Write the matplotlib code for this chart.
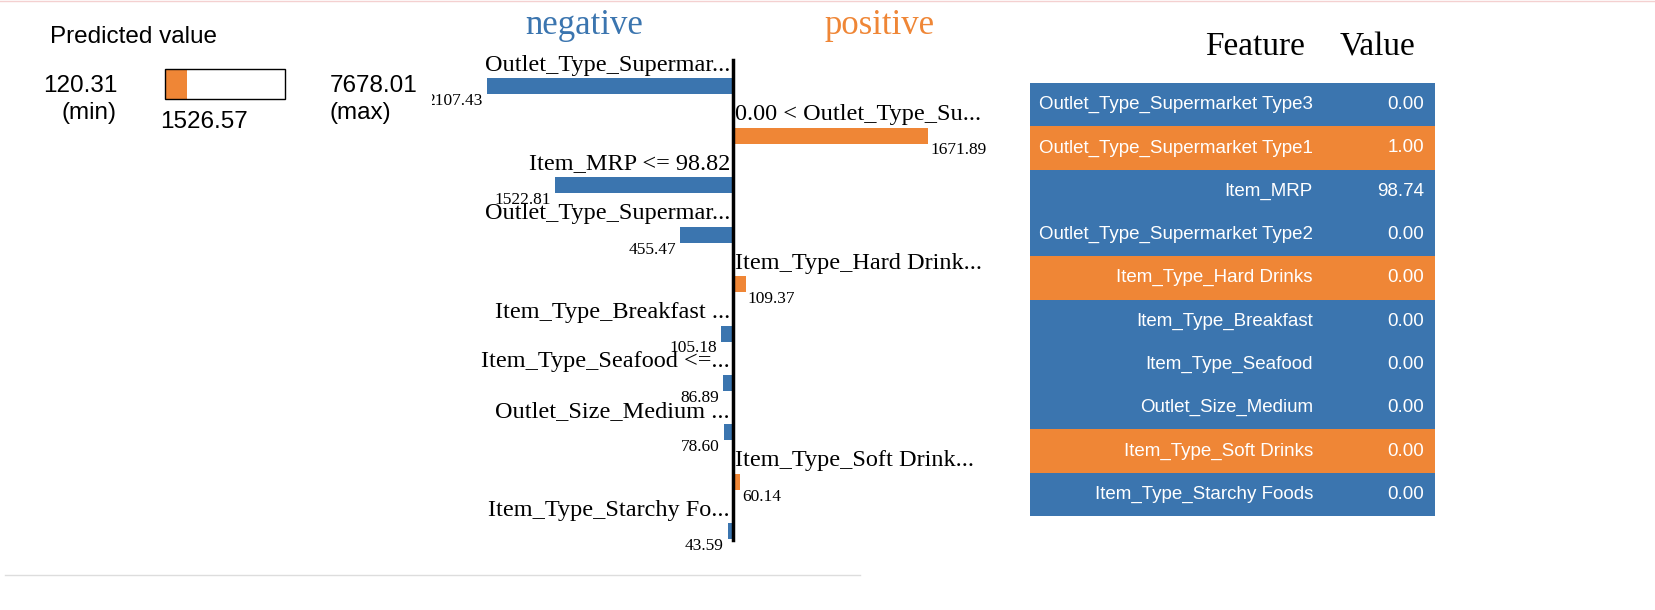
import matplotlib.pyplot as plt
from matplotlib.patches import Rectangle

BLUE = "#3b75af"
ORANGE = "#ef8636"

labels = ["Outlet_Type_Supermar...", "0.00 < Outlet_Type_Su...", "Item_MRP <= 98.82",
          "Outlet_Type_Supermar...", "Item_Type_Hard Drink...", "Item_Type_Breakfast ...",
          "Item_Type_Seafood <=...", "Outlet_Size_Medium ...", "Item_Type_Soft Drink...",
          "Item_Type_Starchy Fo..."]
weights = [-2107.43, 1671.89, -1522.81, -455.47, 109.37, -105.18, -86.89, -78.60, 60.14, -43.59]

features = ["Outlet_Type_Supermarket Type3", "Outlet_Type_Supermarket Type1", "Item_MRP",
            "Outlet_Type_Supermarket Type2", "Item_Type_Hard Drinks", "Item_Type_Breakfast",
            "Item_Type_Seafood", "Outlet_Size_Medium", "Item_Type_Soft Drinks",
            "Item_Type_Starchy Foods"]
values = [0.00, 1.00, 98.74, 0.00, 0.00, 0.00, 0.00, 0.00, 0.00, 0.00]

pred_min, pred_val, pred_max = 120.31, 1526.57, 7678.01

W, H = 1656, 610
fig = plt.figure(figsize=(W / 100, H / 100), dpi=100)

# pixel overlay axes
pax = fig.add_axes([0, 0, 1, 1])
pax.set_xlim(0, W)
pax.set_ylim(H, 0)
pax.axis("off")

SANS = "Liberation Sans"
SERIF = "Liberation Serif"

pax.plot([0, W], [1, 1], color="#f4d0d0", lw=1)
pax.plot([5, 860], [575, 575], color="#dddddd", lw=1)

# predicted value box
pax.text(50, 37, "Predicted value", fontsize=17.5, family=SANS, va="center")
frac = (pred_val - pred_min) / (pred_max - pred_min)
pax.add_patch(Rectangle((165, 69), 120 * frac, 30, color=ORANGE, lw=0))
pax.add_patch(Rectangle((165, 69), 120, 30, fill=False, ec="black", lw=1))
pax.text(118, 86, "%.2f" % pred_min, fontsize=17.5, family=SANS, ha="right", va="center")
pax.text(117, 113, "(min)", fontsize=17.5, family=SANS, ha="right", va="center")
pax.text(160, 122, "%.2f" % pred_val, fontsize=17.5, family=SANS, ha="left", va="center")
pax.text(330, 86, "%.2f" % pred_max, fontsize=17.5, family=SANS, ha="left", va="center")
pax.text(330, 113, "(max)", fontsize=17.5, family=SANS, ha="left", va="center")

pax.text(584, 25, "negative", fontsize=25, family=SERIF, color=BLUE, ha="center", va="center")
pax.text(880, 25, "positive", fontsize=25, family=SERIF, color=ORANGE, ha="center", va="center")

# bar chart in data units
scale = 246 / 2107.43  # px per unit
left_px, right_px, center_px = 432, 1030, 733
top_px, bot_px = 55, 560
row0, step = 86, 49.5
ax = fig.add_axes([left_px / W, 1 - bot_px / H, (right_px - left_px) / W, (bot_px - top_px) / H])
ax.set_xlim(-(center_px - left_px) / scale, (right_px - center_px) / scale)
ax.set_ylim((bot_px - row0) / step, -(row0 - top_px) / step)
ax.axis("off")
bh = 16 / step
for i, (lab, w) in enumerate(zip(labels, weights)):
    c = ORANGE if w > 0 else BLUE
    ax.barh(i, w, height=bh, color=c)
    if w < 0:
        ax.text(-3 / scale, i - 21 / step, lab, fontsize=17.5, family=SERIF, ha="right", va="center")
        ax.text(w - 4 / scale, i + 15 / step, "%.2f" % abs(w), fontsize=12.5, family=SERIF,
                ha="right", va="center", clip_on=True)
    else:
        ax.text(2 / scale, i - 21 / step, lab, fontsize=17.5, family=SERIF, ha="left", va="center")
        ax.text(w + 2 / scale, i + 15 / step, "%.2f" % abs(w), fontsize=12.5, family=SERIF,
                ha="left", va="center")
ax.plot([0, 0], [-(row0 - 60) / step, (540 - row0) / step], color="black", lw=2.5)

# feature table
pax.text(1255, 47, "Feature", fontsize=24, family=SERIF, ha="center", va="center")
pax.text(1378, 47, "Value", fontsize=24, family=SERIF, ha="center", va="center")
ty, th = 83, 43.3
for i, (f, v) in enumerate(zip(features, values)):
    c = ORANGE if weights[i] > 0 else BLUE
    pax.add_patch(Rectangle((1030, ty + i * th), 405, th, color=c, lw=0))
    pax.text(1313, ty + i * th + th / 2, f, fontsize=13.5, family=SANS, color="white", ha="right", va="center")
    pax.text(1424, ty + i * th + th / 2, "%.2f" % v, fontsize=13.5, family=SANS, color="white", ha="right", va="center")

fig.savefig("out.png", dpi=100)
